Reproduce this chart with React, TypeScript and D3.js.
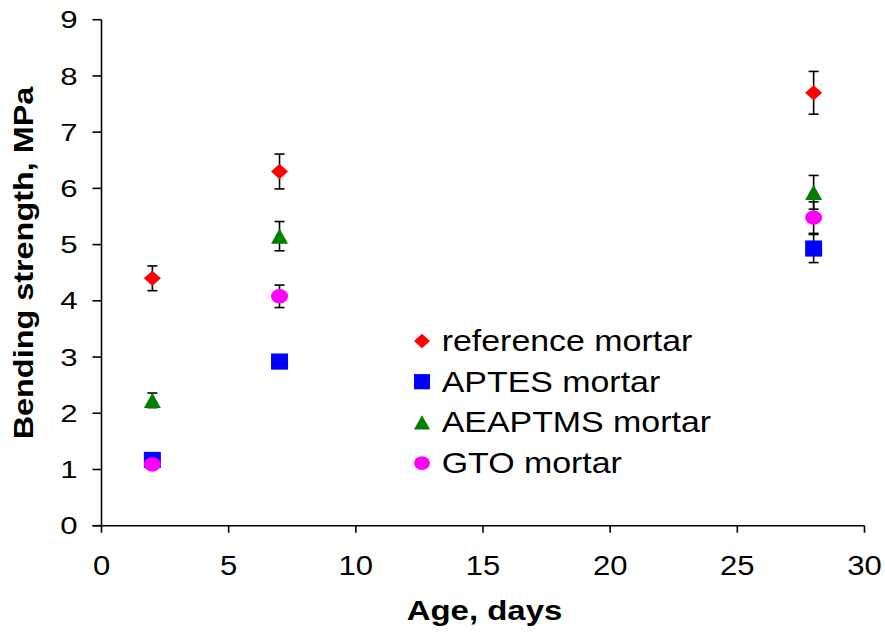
import React from "react";
import * as d3 from "d3";

// Curing age (days) at which the specimens were tested
const ages = [2, 7, 28];

// Mean bending strength (MPa) and standard deviation for each mortar
const seriesNames = ["reference mortar", "APTES mortar", "AEAPTMS mortar", "GTO mortar"];
const referenceMean = [4.4, 6.3, 7.7];
const referenceErr = [0.22, 0.31, 0.38];
const aptesMean = [1.17, 2.92, 4.93];
const aptesErr = [0.05, 0.12, 0.25];
const aeaptmsMean = [2.23, 5.15, 5.93];
const aeaptmsErr = [0.13, 0.26, 0.3];
const gtoMean = [1.09, 4.08, 5.48];
const gtoErr = [0.05, 0.2, 0.28];

const xTicks = [0, 5, 10, 15, 20, 25, 30];
const yTicks = [0, 1, 2, 3, 4, 5, 6, 7, 8, 9];

const W = 885;
const H = 633;
const FONT = "'Liberation Sans', Arial, sans-serif";

type Shape = "diamond" | "square" | "triangle" | "circle";

const series = [
  { name: seriesNames[0], mean: referenceMean, err: referenceErr, color: "#FF0000", shape: "diamond" as Shape },
  { name: seriesNames[1], mean: aptesMean, err: aptesErr, color: "#0000FF", shape: "square" as Shape },
  { name: seriesNames[2], mean: aeaptmsMean, err: aeaptmsErr, color: "#008000", shape: "triangle" as Shape },
  { name: seriesNames[3], mean: gtoMean, err: gtoErr, color: "#FF00FF", shape: "circle" as Shape },
];

function Marker({ shape, cx, cy, color, s }: { shape: Shape; cx: number; cy: number; color: string; s: number }) {
  const h = s / 2;
  if (shape === "diamond") {
    return <polygon points={`${cx},${cy - h * 0.9} ${cx + h},${cy} ${cx},${cy + h * 0.9} ${cx - h},${cy}`} fill={color} />;
  }
  if (shape === "square") {
    return <rect x={cx - h} y={cy - h * 0.95} width={s} height={s * 0.95} fill={color} />;
  }
  if (shape === "triangle") {
    return <polygon points={`${cx},${cy - h * 0.9} ${cx + h},${cy + h * 0.9} ${cx - h},${cy + h * 0.9}`} fill={color} />;
  }
  return <ellipse cx={cx} cy={cy} rx={h} ry={h * 0.85} fill={color} />;
}

export default function App() {
  const x = d3.scaleLinear().domain([0, 30]).range([101.5, 864.5]);
  const y = d3.scaleLinear().domain([0, 9]).range([525.7, 19.7]);

  const legendX = 422;
  const legendY = 341;
  const legendStep = 40.7;

  return (
    <svg width={W} height={H} style={{ display: "block", position: "absolute", left: 0, top: 0 }} fontFamily={FONT}>
      <rect width={W} height={H} fill="#fff" />

      {/* axes */}
      <line x1={x(0)} x2={x(0)} y1={y(9)} y2={y(0)} stroke="#000" strokeWidth={1.6} />
      <line x1={x(0) - 9} x2={x(30)} y1={y(0)} y2={y(0)} stroke="#000" strokeWidth={1.6} />
      {yTicks.map((t) => (
        <g key={`y${t}`}>
          <line x1={x(0) - 9} x2={x(0)} y1={y(t)} y2={y(t)} stroke="#000" strokeWidth={1.6} />
          <text
            transform={`translate(${x(0) - 24},${y(t) + 8.6}) scale(1.3,1)`}
            textAnchor="end"
            fontSize={24}
            fill="#000"
          >
            {t}
          </text>
        </g>
      ))}
      {xTicks.map((t) => (
        <g key={`x${t}`}>
          <line x1={x(t)} x2={x(t)} y1={y(0)} y2={y(0) + 7} stroke="#000" strokeWidth={1.6} />
          <text
            transform={`translate(${x(t)},${y(0) + 49}) scale(1.15,1)`}
            textAnchor="middle"
            fontSize={27}
            fill="#000"
          >
            {t}
          </text>
        </g>
      ))}

      {/* axis titles */}
      <text
        transform={`translate(484.5,620) scale(1.22,1)`}
        textAnchor="middle"
        fontSize={27}
        fontWeight="bold"
        fill="#000"
      >
        Age, days
      </text>
      <text
        transform={`translate(33,263) rotate(-90) scale(1.2,1)`}
        textAnchor="middle"
        fontSize={27}
        fontWeight="bold"
        fill="#000"
      >
        Bending strength, MPa
      </text>

      {/* error bars */}
      {series.map((s) =>
        ages.map((a, i) => {
          const cx = x(a);
          const top = y(s.mean[i] + s.err[i]);
          const bot = y(s.mean[i] - s.err[i]);
          return (
            <g key={`e${s.name}${a}`} stroke="#000" strokeWidth={1.6}>
              <line x1={cx} x2={cx} y1={top} y2={bot} />
              <line x1={cx - 5} x2={cx + 5} y1={top} y2={top} />
              <line x1={cx - 5} x2={cx + 5} y1={bot} y2={bot} />
            </g>
          );
        })
      )}

      {/* markers */}
      {series.map((s) =>
        ages.map((a, i) => (
          <Marker key={`m${s.name}${a}`} shape={s.shape} cx={x(a)} cy={y(s.mean[i])} color={s.color} s={17} />
        ))
      )}

      {/* legend */}
      {series.map((s, i) => (
        <g key={`l${s.name}`}>
          <Marker shape={s.shape} cx={legendX} cy={legendY + i * legendStep} color={s.color} s={16} />
          <text
            transform={`translate(441.7,${legendY + i * legendStep + 10}) scale(1.15,1)`}
            fontSize={29.5}
            fill="#000"
          >
            {s.name}
          </text>
        </g>
      ))}
    </svg>
  );
}
